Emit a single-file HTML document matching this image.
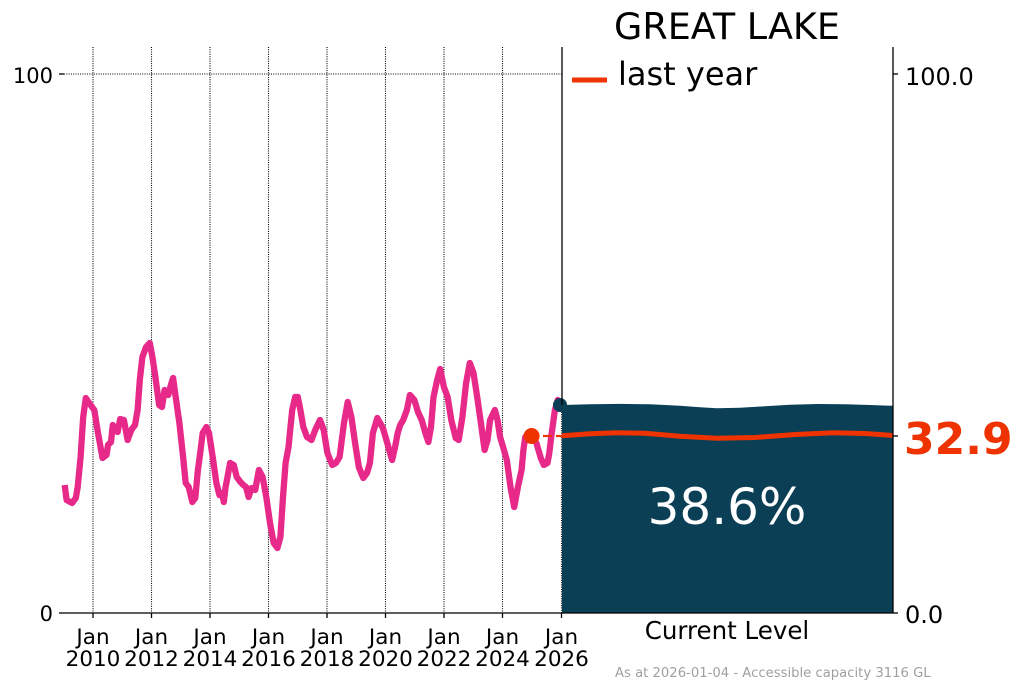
<!DOCTYPE html>
<html>
<head>
<meta charset="utf-8">
<style>
html,body{margin:0;padding:0;background:#fff;}
svg{display:block;}
text{font-family:"DejaVu Sans","Liberation Sans",sans-serif;}
</style>
</head>
<body>
<svg width="1024" height="691" viewBox="0 0 1024 691" xmlns="http://www.w3.org/2000/svg">
<rect width="1024" height="691" fill="#fff"/>
<!-- vertical dotted gridlines -->
<g stroke="#000" stroke-width="1.1" stroke-dasharray="1,1.3">
<line x1="93" y1="47" x2="93" y2="613"/>
<line x1="151.5" y1="47" x2="151.5" y2="613"/>
<line x1="210" y1="47" x2="210" y2="613"/>
<line x1="268.5" y1="47" x2="268.5" y2="613"/>
<line x1="327" y1="47" x2="327" y2="613"/>
<line x1="385.5" y1="47" x2="385.5" y2="613"/>
<line x1="444" y1="47" x2="444" y2="613"/>
<line x1="502.5" y1="47" x2="502.5" y2="613"/>
<line x1="561.5" y1="405" x2="561.5" y2="613"/>
<line x1="64" y1="74" x2="562" y2="74"/>
</g>
<!-- pink series -->
<polyline fill="none" stroke="#e7298a" stroke-width="6.3" stroke-linejoin="round" stroke-linecap="butt" points="64.7,485 66.6,500 72.1,503 75.8,498 77.7,487 80.6,457 83.2,417 85.8,398 90.6,405 94.3,410 98,433 102.5,458 106.5,455 108,445 111,442 112.8,425 115.4,430 117.6,432 120.2,419 123.9,420 127.6,440 131.3,430 135,425 137.6,410 139.8,380 142.4,357 146.1,347 149.8,343 152.4,357 155.4,377 159.1,405 162,407 164.6,390 168.3,395 170.9,385 173.1,378 175.7,397 179.4,423 183.1,457 185.7,483 188.7,487 192.3,502 195.3,498 197.9,470 199.7,457 202.7,433 206.4,427 209,433 212.7,457 216.4,483 219.4,495 221.9,493 223.8,502 225.6,487 227.5,477 230.1,463 233.8,465 236.7,477 240.4,482 243.4,485 246,487 248.6,497 251.5,488 255.2,490 258.9,470 262.6,477 266.3,497 270,523 273.7,543 277.4,548 280.4,537 283,497 285.6,463 288.5,447 292.2,410 295.2,397 297.8,397 300.4,410 303.3,427 307,437 311.5,440 315.2,430 320,420 323.7,430 327.4,453 332.2,465 335.9,463 339.6,457 344,423 347.7,402 351.4,417 355.1,443 358.8,467 363.3,478 367,473 369.9,463 372.9,433 377.3,418 382.9,428 388.4,447 392.1,460 395.1,447 397.7,433 400.2,425 403.2,420 406.9,410 409.9,395 414.3,400 418,412 421.7,420 425.4,433 428.4,442 431,427 433.5,397 437.2,380 440.2,369 443.9,387 447.6,397 451.3,420 455.7,438 458.7,440 462.4,417 466.1,383 469.8,363 473.5,373 477.2,397 480.9,423 484.6,450 487.5,440 490.1,420 494.9,410 497.5,420 500.1,437 503.1,447 506.8,460 510.5,487 514.2,507 517.9,487 521.6,470 523.4,450 525.3,437 529,433 531.6,436 536.4,443 540.8,458 543.8,465 547.5,463 549.3,453 551.2,437 554.9,410 557.8,400 560.5,404"/>
<!-- last year marker and dashed connector -->
<circle cx="531.6" cy="436" r="8" fill="#ee3300"/>
<g stroke="#ee3300" stroke-width="2.2">
<line x1="543" y1="436" x2="552" y2="436"/>
<line x1="556" y1="436" x2="562" y2="436"/>
</g>
<circle cx="560" cy="405" r="7" fill="#0a3f56"/>
<!-- right panel fill -->
<polygon fill="#0a3f56" points="562,405 590,404.3 620,403.9 650,404.3 680,405.8 700,407.3 717,408.2 740,407.8 765,406.3 790,404.8 817,404 845,404.3 870,405 893,405.8 893,613 562,613"/>
<polyline fill="none" stroke="#ee3300" stroke-width="5" points="562,435.7 590,433.8 617,432.8 645,433.3 680,436.3 717,438.2 755,437.5 795,434.5 833,432.7 865,433.5 893,435.5"/>
<!-- spines -->
<g stroke="#000" stroke-width="1.3">
<line x1="562" y1="47" x2="562" y2="405"/>
<line x1="893" y1="47" x2="893" y2="613"/>
<line x1="64" y1="613" x2="893" y2="613"/>
<line x1="59" y1="74" x2="64" y2="74"/>
<line x1="59" y1="613" x2="64" y2="613"/>
<line x1="893" y1="74" x2="898" y2="74"/>
<line x1="893" y1="436" x2="898" y2="436"/>
<line x1="893" y1="613" x2="898" y2="613"/>
<line x1="93" y1="613" x2="93" y2="618"/>
<line x1="151.5" y1="613" x2="151.5" y2="618"/>
<line x1="210" y1="613" x2="210" y2="618"/>
<line x1="268.5" y1="613" x2="268.5" y2="618"/>
<line x1="327" y1="613" x2="327" y2="618"/>
<line x1="385.5" y1="613" x2="385.5" y2="618"/>
<line x1="444" y1="613" x2="444" y2="618"/>
<line x1="502.5" y1="613" x2="502.5" y2="618"/>
<line x1="561.5" y1="613" x2="561.5" y2="618"/>
</g>
<!-- left y labels -->
<text x="53" y="83" font-size="21" text-anchor="end" fill="#000">100</text>
<text x="53" y="621" font-size="21" text-anchor="end" fill="#000">0</text>
<!-- right y labels -->
<text x="905" y="85" font-size="24" fill="#000">100.0</text>
<text x="905" y="623" font-size="24" fill="#000">0.0</text>
<text x="904" y="454" font-size="44" font-weight="bold" fill="#ee3300">32.9</text>
<!-- x labels -->
<g font-size="21.5" text-anchor="middle" fill="#000">
<text x="93" y="644">Jan</text><text x="93" y="666">2010</text>
<text x="151.5" y="644">Jan</text><text x="151.5" y="666">2012</text>
<text x="210" y="644">Jan</text><text x="210" y="666">2014</text>
<text x="268.5" y="644">Jan</text><text x="268.5" y="666">2016</text>
<text x="327" y="644">Jan</text><text x="327" y="666">2018</text>
<text x="385.5" y="644">Jan</text><text x="385.5" y="666">2020</text>
<text x="444" y="644">Jan</text><text x="444" y="666">2022</text>
<text x="502.5" y="644">Jan</text><text x="502.5" y="666">2024</text>
<text x="561.5" y="644">Jan</text><text x="561.5" y="666">2026</text>
</g>
<text x="727" y="639" font-size="24.5" text-anchor="middle" fill="#000">Current Level</text>
<!-- title + legend -->
<text x="727" y="39" font-size="36.5" text-anchor="middle" fill="#000">GREAT LAKE</text>
<line x1="572" y1="80" x2="607" y2="80" stroke="#ee3300" stroke-width="5"/>
<text x="618" y="85" font-size="32" fill="#000">last year</text>
<!-- big percent -->
<text x="727" y="524" font-size="50" text-anchor="middle" fill="#fff">38.6%</text>
<!-- footer -->
<text x="615" y="677" font-size="13.2" fill="#a0a0a0">As at 2026-01-04 - Accessible capacity 3116 GL</text>
</svg>
</body>
</html>
